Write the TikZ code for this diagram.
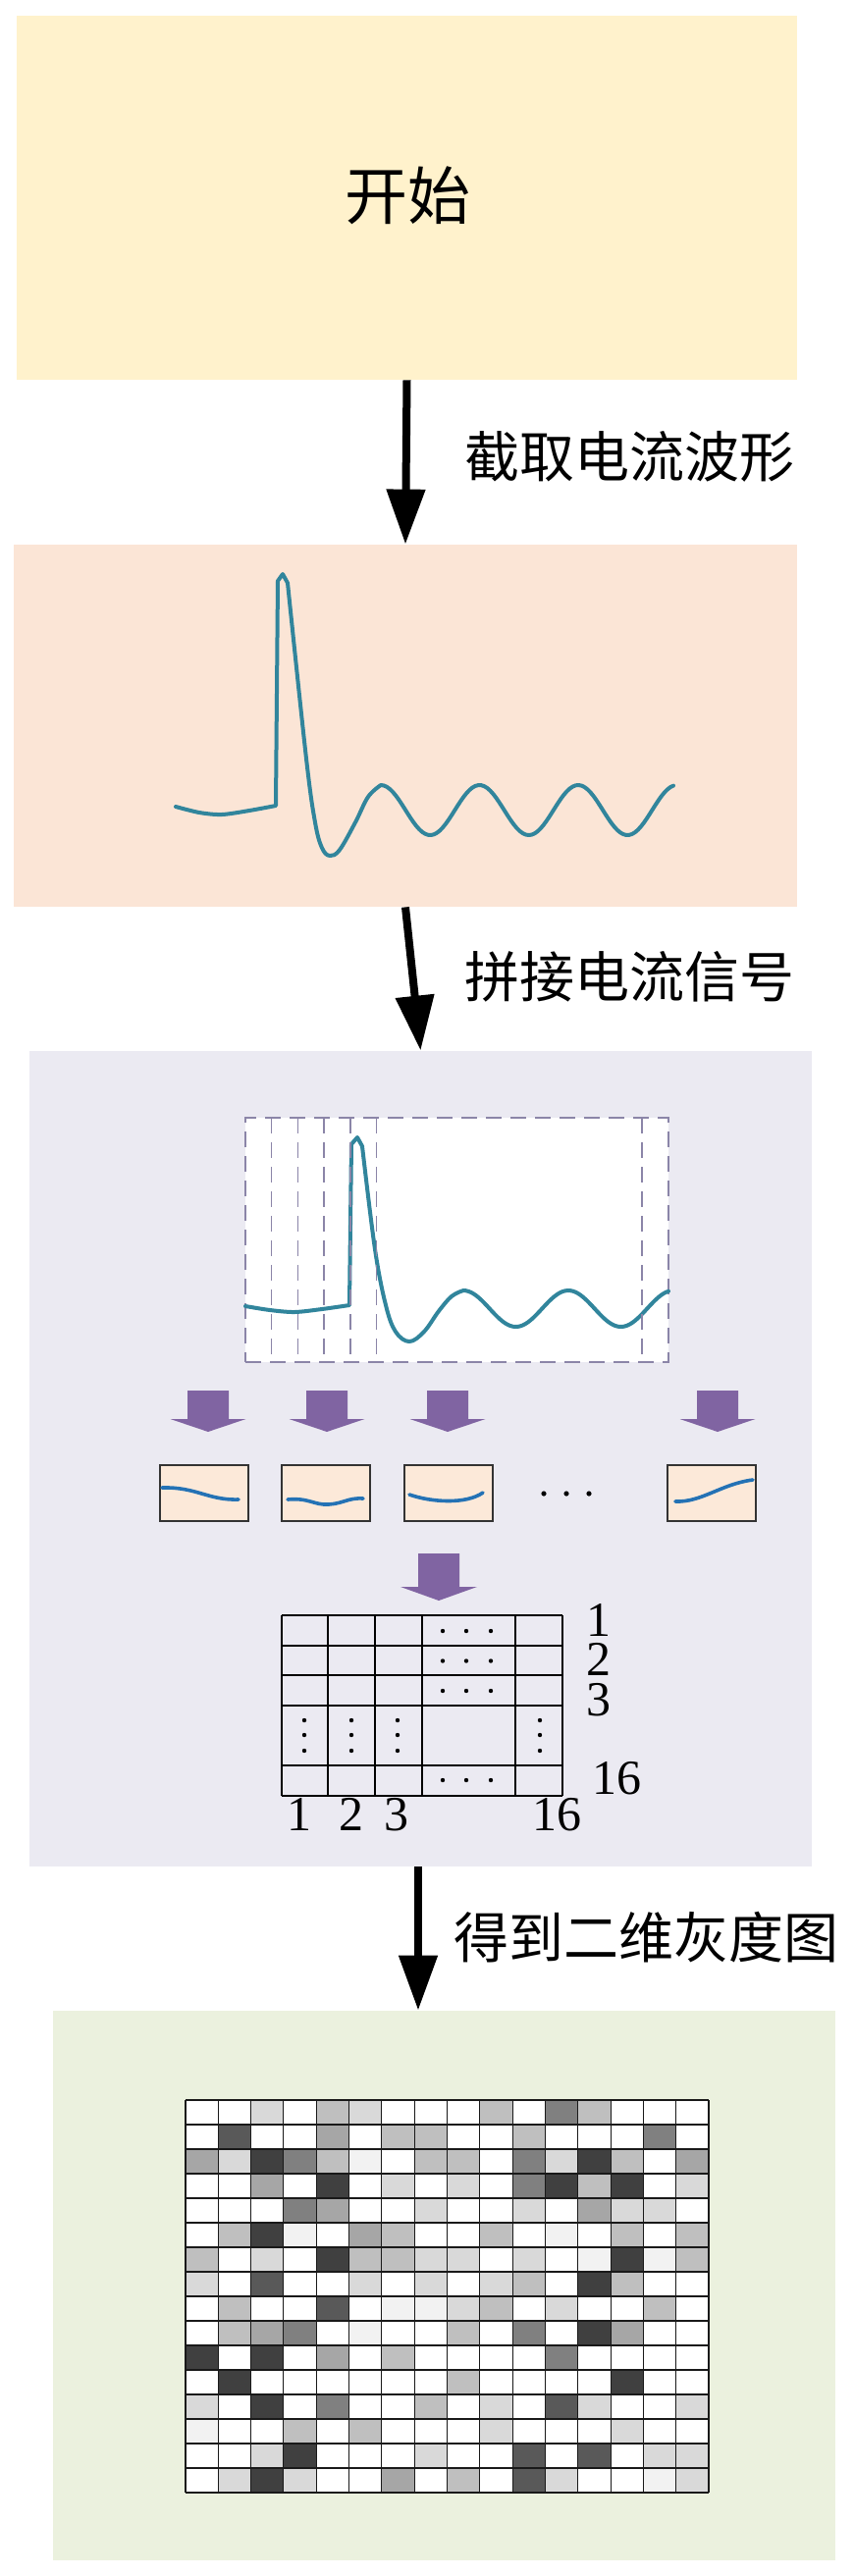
\documentclass[tikz,border=0pt]{standalone}
\usepackage{fontspec}
\setmainfont{Liberation Serif}
\newfontfamily\cjk{Noto Sans CJK SC}
\usetikzlibrary{arrows.meta,fit}
\definecolor{boxA}{HTML}{FFF2CC}
\definecolor{boxB}{HTML}{FBE5D6}
\definecolor{boxC}{HTML}{EBEAF2}
\definecolor{boxD}{HTML}{EBF1DE}
\definecolor{wavec}{HTML}{31859C}
\definecolor{curvec}{HTML}{2472B5}
\definecolor{purp}{HTML}{8064A2}
\definecolor{dashc}{HTML}{8B85A8}
\definecolor{smallfill}{HTML}{FCE9D9}
\definecolor{gW}{HTML}{FFFFFF}
\definecolor{gV}{HTML}{F2F2F2}
\definecolor{gL}{HTML}{D9D9D9}
\definecolor{gM}{HTML}{BFBFBF}
\definecolor{gA}{HTML}{A6A6A6}
\definecolor{gG}{HTML}{808080}
\definecolor{gD}{HTML}{595959}
\definecolor{gK}{HTML}{404040}
\tikzset{
  panel/.style={inner sep=0pt, draw=none},
  bigarrow/.style={line width=4pt, -{Triangle[width=19pt,length=28pt]}},
  cnlabel/.style={font=\cjk\fontsize{28pt}{30pt}\selectfont, anchor=west, inner sep=0pt},
  wave/.style={draw=wavec, line width=2pt, line join=round, line cap=round},
  minicurve/.style={draw=curvec, line width=1.8pt, line cap=round},
  smallbox/.style={draw=black!80, line width=0.6pt, fill=smallfill, minimum width=45pt, minimum height=28.5pt, inner sep=0pt},
  numtxt/.style={font=\fontsize{25pt}{25pt}\selectfont, inner sep=0pt},
  dashline/.style={draw=dashc, line width=0.65pt, dash pattern=on 8pt off 4.5pt},
  blockarrow/.style={fill=purp, draw=none},
  gridline/.style={draw=black!90, line width=0.55pt},
  lgrid/.style={draw=black, line width=0.7pt},
  dotc/.style={fill=black}
}
\begin{document}
\begin{tikzpicture}[x=0.5pt,y=-0.5pt]
\useasboundingbox (0,0) rectangle (869,2625);
\fill[white] (0,0) rectangle (869,2625);

% panels
\node[panel, fill=boxA, fit={(17,16)(812,387)}] (box1) {};
\node[font=\cjk\fontsize{32pt}{34pt}\selectfont, inner sep=0pt] (start) at (415,199) {开始};
\node[panel, fill=boxB, fit={(14,555)(812,924)}] (box2) {};
\node[panel, fill=boxC, fit={(30,1071)(827,1902)}] (box3) {};
\node[panel, fill=boxD, fit={(54,2049)(851,2609)}] (box4) {};

% arrows between panels
\draw[bigarrow] (box1.south) -- (box2.north);
\node[cnlabel] (t1) at (473,465) {截取电流波形};
\draw[bigarrow] (box2.south) -- (box3.north);
\node[cnlabel] (t2) at (473,995) {拼接电流信号};
\coordinate (a3) at (426,0);
\draw[bigarrow] (box3.south -| a3) -- (box4.north -| a3);
\node[cnlabel] (t3) at (462,1974) {得到二维灰度图};

% waveform in panel 2
\draw[wave] plot[smooth] coordinates {(179,822)(203,828)(226,830)(254,826)(281,821)}
  -- (283,592) -- (288,585) -- (293,594)
  -- plot[smooth, tension=0.6] coordinates {(293,594)(312,773)(321,838)(328,864)(336,872)(346,866)(362,838)(375,812)(388,800)}
  -- plot[domain=388:686, samples=100] (\x,{825.5-25.5*cos((\x-388)/100.5*360)});

% dashed frame with segmented waveform
\node[fit={(250,1139)(681,1388)}, inner sep=0pt, fill=white, dashline] (frame) {};
\draw[wave] plot[smooth] coordinates {(250,1331)(275,1335)(300,1337)(328,1334)(356,1330)}
  -- (358,1166) -- (364,1159) -- (369,1168)
  -- plot[smooth, tension=0.6] coordinates {(369,1168)(382,1273)(393,1330)(403,1357)(417,1367)(432,1357)(447,1336)(460,1321)(472,1315)}
  -- plot[domain=472:681, samples=80] (\x,{1333.5-18.5*cos((\x-472)/107*360)});
\foreach \xx in {276.5,303.5,330,357,383.5,654}
  \draw[dashline] (\xx,1139) -- (\xx,1388);

% purple block arrows
\foreach \cx in {212,333,456,731}
  \fill[blockarrow] (\cx-21,1417) -- (\cx+21,1417) -- (\cx+21,1446) -- (\cx+38.5,1446)
    -- (\cx,1459) -- (\cx-38.5,1446) -- (\cx-21,1446) -- cycle;

% small boxes
\node[smallbox] (s1) at (208,1521.5) {};
\node[smallbox] (s2) at (332,1521.5) {};
\node[smallbox] (s3) at (457,1521.5) {};
\node[smallbox] (s4) at (725,1521.5) {};
\draw[minicurve] (165,1516) .. controls (200,1515) and (212,1529) .. (243,1528);
\draw[minicurve] (293,1528) .. controls (315,1526) and (320,1534) .. (335,1533) .. controls (350,1532) and (355,1526) .. (370,1527);
\draw[minicurve] (417,1523) .. controls (440,1531) and (475,1533) .. (492,1521);
\draw[minicurve] (688,1530) .. controls (715,1531) and (735,1512) .. (767,1508);
\foreach \xx in {554,577,600} \fill[dotc] (\xx,1522) circle (2.6);

% second purple arrow
\fill[blockarrow] (426,1583) -- (468,1583) -- (468,1617) -- (486,1617) -- (447,1631)
  -- (408,1617) -- (426,1617) -- cycle;

% index grid
\foreach \xx in {287,334,382,430,525,573} \draw[lgrid] (\xx,1646) -- (\xx,1830);
\foreach \yy in {1646,1677,1707,1738,1799,1830} \draw[lgrid] (287,\yy) -- (573,\yy);
\foreach \yy in {1662,1692.5,1723,1814}
  \foreach \xx in {451,475,500} \fill[dotc] (\xx,\yy) circle (2.2);
\foreach \xx in {310,358,405,550}
  \foreach \yy in {1753,1768,1784} \fill[dotc] (\xx,\yy) circle (2.2);
\node[numtxt] (r1) at (610,1651) {1};
\node[numtxt] (r2) at (610,1691) {2};
\node[numtxt] (r3) at (610,1732) {3};
\node[numtxt] (r16) at (628,1812) {16};
\node[numtxt] (c1) at (305,1849) {1};
\node[numtxt] (c2) at (358,1849) {2};
\node[numtxt] (c3) at (404,1849) {3};
\node[numtxt] (c16) at (567,1849) {16};

% grayscale image
\foreach \vals [count=\r] in {
 {W,W,L,W,M,L,W,W,W,M,W,G,M,W,W,W},
 {W,D,W,W,A,W,M,M,W,W,M,W,W,W,G,W},
 {A,L,K,G,M,V,W,M,M,W,G,L,K,M,W,A},
 {W,W,A,W,K,W,L,W,L,W,G,K,M,K,W,L},
 {W,W,W,G,A,W,W,L,W,W,L,W,A,L,L,W},
 {W,M,K,V,W,A,M,W,W,M,W,V,W,M,W,M},
 {M,W,L,W,K,M,M,L,L,W,L,W,V,K,V,M},
 {L,W,D,W,W,L,W,L,W,L,M,W,K,M,W,W},
 {W,M,W,W,D,W,V,V,L,M,W,L,W,W,M,W},
 {W,M,A,G,W,V,W,W,M,W,G,W,K,A,W,W},
 {K,W,K,W,A,W,M,W,W,W,W,G,W,W,W,W},
 {W,K,W,W,W,W,W,W,M,W,W,W,W,K,W,W},
 {L,W,K,W,G,W,W,M,W,L,W,D,L,W,W,L},
 {V,W,W,M,W,M,W,W,W,L,W,W,W,L,W,W},
 {W,W,L,K,W,W,W,L,W,W,D,W,D,W,L,L},
 {W,L,K,L,W,W,A,W,M,W,D,L,W,W,V,L}} {
  \foreach \c [count=\i] in \vals {
    \fill[g\c] ({189+(\i-1)*33.3125},{2140+(\r-1)*25}) rectangle ++(33.3125,25);
  }
}
\foreach \i in {0,...,16} \draw[gridline] ({189+\i*33.3125},2140) -- ({189+\i*33.3125},2540);
\foreach \j in {0,...,16} \draw[gridline] (189,{2140+\j*25}) -- (722,{2140+\j*25});
\end{tikzpicture}
\end{document}
